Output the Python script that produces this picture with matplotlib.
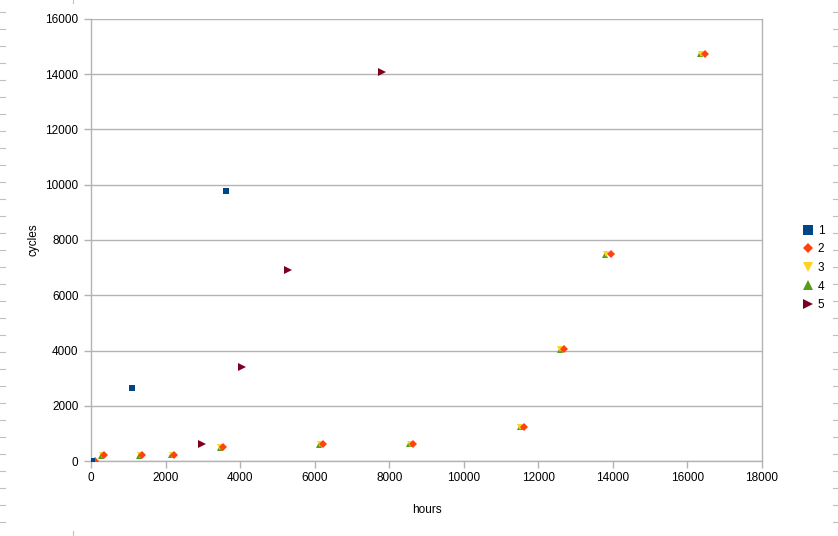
import numpy as np
import matplotlib.pyplot as plt
from matplotlib.lines import Line2D

plt.rcParams['font.family'] = ['Liberation Sans', 'DejaVu Sans']

# data (hours vs cycles)
s1_hours = [20, 1100, 3620]
s1_cycles = [0, 2640, 9780]

s2_hours = [100, 360, 1370, 2230, 3550, 6230, 8650, 11610, 12690, 13940, 16460]
s2_cycles = [0, 210, 210, 220, 490, 610, 620, 1240, 4040, 7490, 14740]

s3_hours = [50, 300, 1310, 2170, 3470, 6140, 8560, 11520, 12590, 13820, 16360]
s3_cycles = [0, 210, 210, 220, 490, 610, 620, 1240, 4040, 7490, 14740]

s4_hours = [40, 280, 1290, 2150, 3450, 6120, 8540, 11500, 12570, 13800, 16340]
s4_cycles = [0, 190, 190, 200, 470, 590, 600, 1220, 4020, 7470, 14720]

s5_hours = [2990, 4050, 5280, 7800]
s5_cycles = [620, 3400, 6910, 14080]

series = [
    ('1', s1_hours, s1_cycles, 's', '#004586'),
    ('2', s2_hours, s2_cycles, 'D', '#ff420e'),
    ('3', s3_hours, s3_cycles, 'v', '#ffd320'),
    ('4', s4_hours, s4_cycles, '^', '#579d1c'),
    ('5', s5_hours, s5_cycles, '>', '#7e0021'),
]
sizes = {'s': 4.0, 'D': 3.8, 'v': 5.0, '^': 5.0, '>': 5.8}
leg_sizes = {'s': 6.5, 'D': 5.0, 'v': 7.0, '^': 7.0, '>': 7.0}

fig = plt.figure(figsize=(8.38, 5.36), dpi=100)
ax = fig.add_axes([0.1086, 0.1399, 0.8007, 0.8247])

# draw in reverse order so series 1/2 sit on top like the original
for name, x, y, m, c in series[::-1]:
    ax.plot(x, y, linestyle='none', marker=m, color=c, markersize=sizes[m],
            markeredgewidth=0, label=name, zorder=3)

ax.set_xlim(0, 18000)
ax.set_ylim(0, 16000)
ax.set_xticks(np.arange(0, 18001, 2000))
ax.set_yticks(np.arange(0, 16001, 2000))
ax.yaxis.grid(True, color='#b3b3b3', linewidth=1)
ax.set_axisbelow(True)

gray = '#b3b3b3'
for side in ['left', 'bottom', 'right']:
    ax.spines[side].set_color(gray)
    ax.spines[side].set_linewidth(1)
ax.spines['top'].set_visible(False)
ax.tick_params(axis='both', color=gray, length=5, width=1, labelsize=8.5,
               labelcolor='black', pad=3)
ax.tick_params(axis='y', pad=4)

ax.set_xlabel('hours', fontsize=8.5, labelpad=14)
ax.set_ylabel('cycles', fontsize=8.5, labelpad=4)

handles = [Line2D([], [], linestyle='none', marker=m, color=c,
                  markersize=leg_sizes[m], markeredgewidth=0)
           for _, _, _, m, c in series]
fig.legend(handles, [s[0] for s in series], loc='center left',
           bbox_to_anchor=(0.952, 0.5), frameon=False, fontsize=8.5,
           handlelength=0.8, handletextpad=0.4, labelspacing=0.56,
           borderpad=0)

# page margin marks along the edges
for yy in np.arange(12, 530, 17):
    fig.add_artist(Line2D([0, 5 / 838], [1 - yy / 536] * 2, color='#c0c0c0', lw=0.8))
    fig.add_artist(Line2D([833 / 838, 1], [1 - yy / 536] * 2, color='#c0c0c0', lw=0.8))
fig.add_artist(Line2D([73 / 838] * 2, [0, 5 / 536], color='#c0c0c0', lw=0.8))
fig.add_artist(Line2D([73 / 838] * 2, [1 - 3 / 536, 1], color='#c0c0c0', lw=0.8))

fig.savefig('out.png', dpi=100)
